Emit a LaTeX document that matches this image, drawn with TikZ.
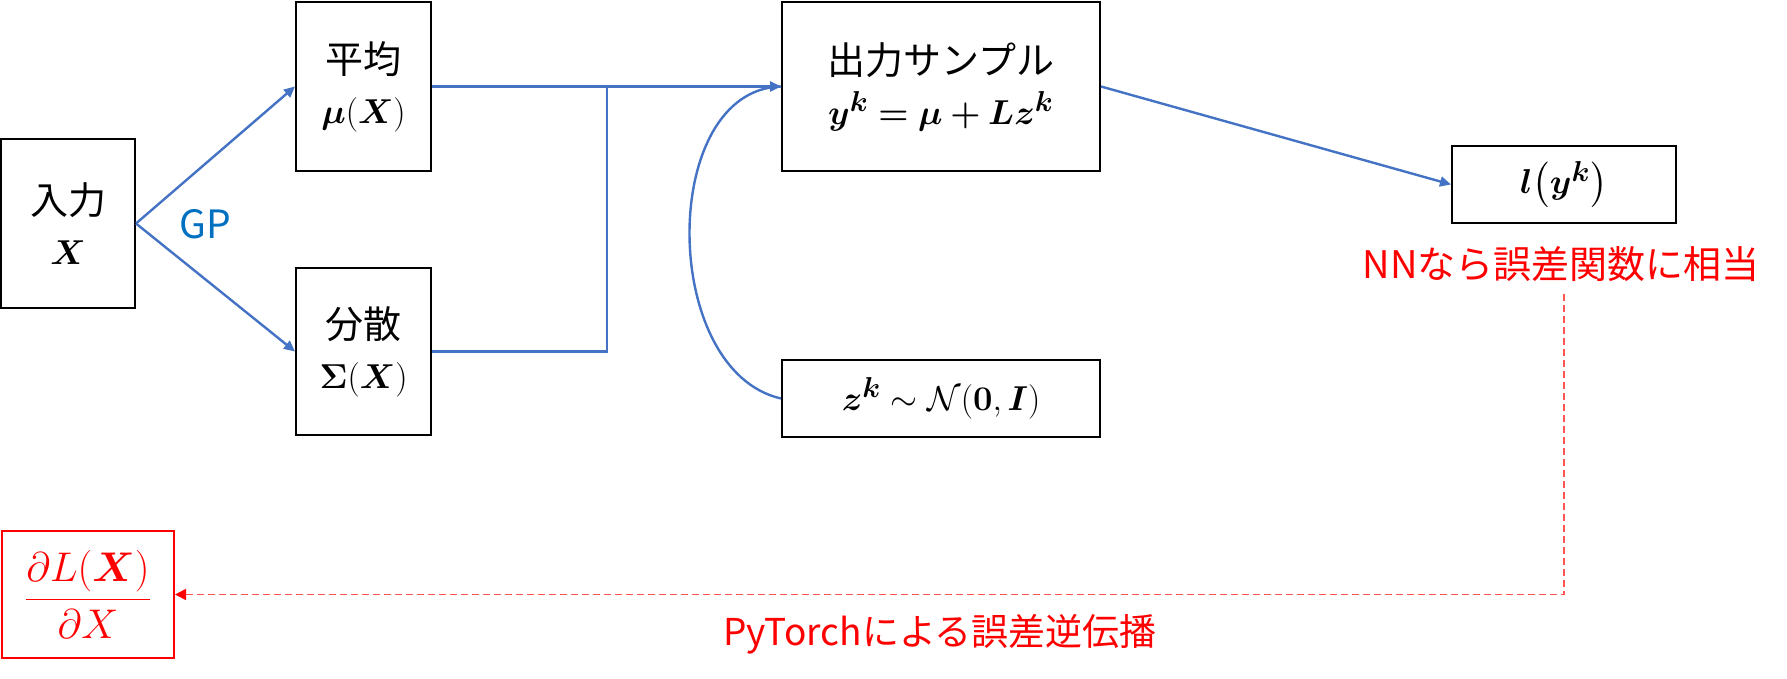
\documentclass[tikz,border=0pt]{standalone}
\usepackage[no-math]{fontspec}
\usepackage{amsmath}
\usepackage{amssymb}
\usepackage{bm}
\newfontfamily\jp{Noto Sans CJK JP}
\usetikzlibrary{arrows.meta}

\definecolor{lineblue}{RGB}{68,114,196}
\definecolor{gpblue}{RGB}{0,112,192}
\definecolor{dashred}{RGB}{255,85,85}

\begin{document}
\begin{tikzpicture}[x=0.5pt,y=-0.5pt,
    box/.style={draw=black, line width=1pt, align=center, inner sep=0pt,
        font=\fontsize{19}{25}\selectfont},
    bline/.style={lineblue, line width=1.2pt},
    barrow/.style={bline, -{Triangle[length=5.5pt,width=5pt]}},
    rarrow/.style={dashred, line width=0.8pt, dash pattern=on 3.5pt off 2pt,
        -{Triangle[length=5.5pt,width=5.5pt,color=red]}},
    redtext/.style={red, font=\jp\fontsize{19}{22}\selectfont}]

    \useasboundingbox (0,0) rectangle (1787,679);

    % Boxes
    \node[box, minimum width=67pt, minimum height=84.5pt] (inp) at (68,223.5)
        {{\jp 入力}\\$\bm{X}$};
    \node[box, minimum width=67.5pt, minimum height=84.5pt] (mean) at (363.5,86.5)
        {{\jp 平均}\\$\bm{\mu}(\bm{X})$};
    \node[box, minimum width=67.5pt, minimum height=83.5pt] (var) at (363.5,351.5)
        {{\jp 分散}\\$\bm{\Sigma}(\bm{X})$};
    \node[box, minimum width=159pt, minimum height=84.5pt] (out) at (941,86.5)
        {{\jp 出力サンプル}\\$\bm{y^k=\mu+Lz^k}$};
    \node[box, minimum width=159pt, minimum height=38.5pt] (zk) at (941,398.5)
        {$\bm{z^k}\sim\mathcal{N}(\mathbf{0},\bm{I})$};
    \node[box, minimum width=112pt, minimum height=38.5pt] (loss) at (1564,184.5)
        {$\bm{l}\bigl(\bm{y^k}\bigr)$};
    \node[box, draw=red, text=red, font=\fontsize{20}{24}\selectfont,
        minimum width=86pt, minimum height=63.5pt] (grad) at (88,594.5)
        {$\dfrac{\partial L(\bm{X})}{\partial X}$};

    % Labels
    \node[gpblue, font=\jp\fontsize{19.5}{22}\selectfont] (gp) at (205,224) {GP};
    \node[redtext] (nn) at (1561,264) {NNなら誤差関数に相当};
    \node[redtext, font=\jp\fontsize{18.5}{22}\selectfont] (pyt) at (940,634) {PyTorchによる誤差逆伝播};

    % Arrows
    \draw[barrow] (inp.east) -- (mean.west);
    \draw[barrow] (inp.east) -- (var.west);
    \coordinate (jn) at (607,86.5);
    \draw[bline] (var.east) -| (jn);
    \draw[barrow] (mean.east) -- (out.west);
    \draw[bline] (zk.west) .. controls +(-122,-28) and +(-122,3) .. (out.west);
    \draw[barrow] (out.east) -- (loss.west);

    % Back propagation
    \coordinate (dtop) at (1564,294);
    \draw[rarrow] (dtop) |- (grad.east);

\end{tikzpicture}
\end{document}
